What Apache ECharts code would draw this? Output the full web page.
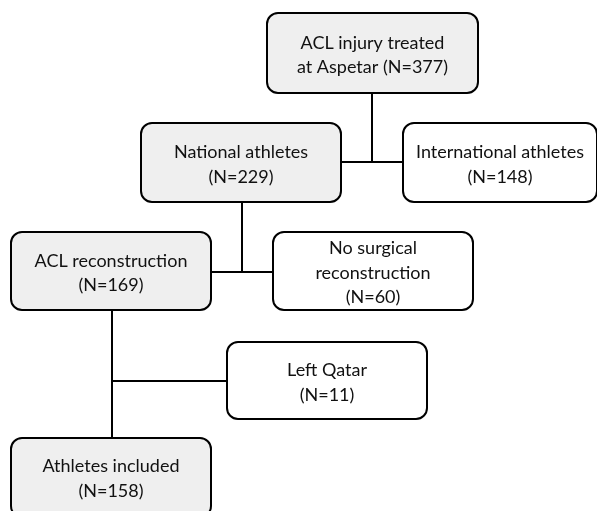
<!DOCTYPE html>
<html>
<head>
<meta charset="utf-8">
<script src="https://cdn.jsdelivr.net/npm/echarts@6/dist/echarts.min.js"></script>
<style>
  html, body { margin: 0; padding: 0; background: #fff; }
  #flow { width: 597px; height: 511px; }
</style>
</head>
<body>
<div id="flow"></div>
<script>
// boxes of the flow chart
const boxLabels = ['ACL injury treated\nat Aspetar', 'National athletes', 'International athletes',
  'ACL reconstruction', 'No surgical\nreconstruction', 'Left Qatar', 'Athletes included'];
const boxCounts = [377, 229, 148, 169, 60, 11, 158];
const boxInline = [true, false, false, false, false, false, false]; // N on same line as label
const boxMain = [true, true, false, true, false, false, true]; // main path (grey) or exclusion (white)

// where boxes sit, in page pixels: left, top, right, bottom
const boxLeft = [267, 141, 403, 11, 273, 227, 11];
const boxTop = [13, 123, 123, 232, 232, 342, 438];
const boxRight = [478, 341, 597, 211, 473, 427, 211];
const boxBottom = [93, 202, 202, 310, 310, 419, 517];

// connector segments [x1, y1, x2, y2]
const links = [
  [372, 93, 372, 162], [341, 162, 403, 162],
  [242, 202, 242, 272], [211, 272, 273, 272],
  [112, 310, 112, 438], [112, 381, 227, 381]
];

let myChart = echarts.init(document.getElementById('flow'));

const boxData = boxLabels.map(function (l, i) {
  return [boxLeft[i], boxTop[i], boxRight[i], boxBottom[i], i];
});

myChart.setOption({
  animation: false,
  grid: { left: 0, right: 0, top: 0, bottom: 0 },
  xAxis: { type: 'value', min: 0, max: 597, show: false },
  yAxis: { type: 'value', min: 0, max: 511, inverse: true, show: false },
  series: [
    {
      type: 'custom',
      data: links,
      renderItem: function (params, api) {
        const a = api.coord([api.value(0), api.value(1)]);
        const b = api.coord([api.value(2), api.value(3)]);
        return {
          type: 'line',
          shape: { x1: a[0], y1: a[1], x2: b[0], y2: b[1] },
          style: { stroke: '#000', lineWidth: 2 }
        };
      }
    },
    {
      type: 'custom',
      data: boxData,
      renderItem: function (params, api) {
        const p0 = api.coord([api.value(0), api.value(1)]);
        const p1 = api.coord([api.value(2), api.value(3)]);
        const i = api.value(4);
        const n = '(N=' + boxCounts[i] + ')';
        const txt = boxInline[i] ? boxLabels[i] + ' ' + n : boxLabels[i] + '\n' + n;
        return {
          type: 'group',
          children: [
            {
              type: 'rect',
              shape: { x: p0[0], y: p0[1], width: p1[0] - p0[0], height: p1[1] - p0[1], r: 11 },
              style: { fill: boxMain[i] ? '#efefef' : '#fff', stroke: '#000', lineWidth: 2 }
            },
            {
              type: 'text',
              x: (p0[0] + p1[0]) / 2,
              y: (p0[1] + p1[1]) / 2 + (i === 6 ? 1 : 2),
              style: {
                text: txt,
                align: 'center',
                verticalAlign: 'middle',
                fill: '#111',
                font: '18px Lato',
                lineHeight: 24.5
              }
            }
          ]
        };
      }
    }
  ]
});
</script>
</body>
</html>
